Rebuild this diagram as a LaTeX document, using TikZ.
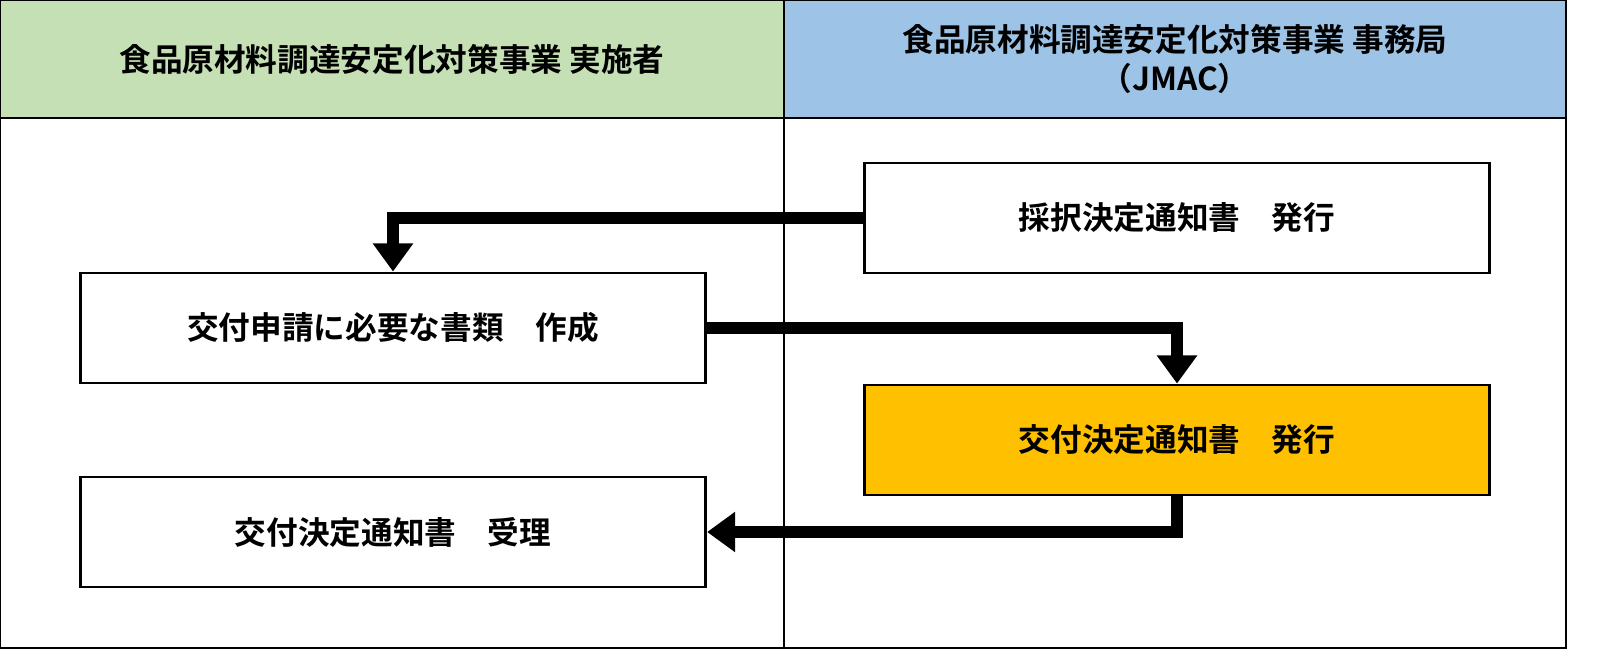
\documentclass[tikz,border=0pt]{standalone}
\usepackage{fontspec}
\setmainfont{Noto Sans CJK JP}[BoldFont={* Bold}]
\usetikzlibrary{arrows.meta}
\definecolor{hdgreen}{HTML}{C5E0B4}
\definecolor{hdblue}{HTML}{9DC3E6}
\definecolor{gold}{HTML}{FFC000}
\tikzset{
  procbox/.style={draw, line width=0.8pt, minimum width=6.25cm, minimum height=1.1cm,
    font=\fontsize{9}{11}\selectfont\bfseries, inner sep=0pt},
  flow/.style={line width=3.5pt, -{Triangle[length=8pt,width=11pt]}},
}
\begin{document}
\begin{tikzpicture}[x=0.01cm,y=-0.01cm]
\useasboundingbox (0,0) rectangle (1598,661);
% headers
\filldraw[draw=black, fill=hdgreen, line width=0.8pt] (0,0) rectangle (784,118);
\filldraw[draw=black, fill=hdblue, line width=0.8pt] (784,0) rectangle (1566,118);
\draw[line width=0.8pt] (0,118) rectangle (1566,648);
\draw[line width=0.8pt] (784,118) -- (784,648);
\node[font=\fontsize{9}{11}\selectfont\bfseries] (hleft) at (392,59) {食品原材料調達安定化対策事業 実施者};
\node[font=\fontsize{9}{11}\selectfont\bfseries, align=center] (hright) at (1175,59) {食品原材料調達安定化対策事業 事務局\\（JMAC）};

% steps
\node[procbox] (saitaku) at (1177,218) {採択決定通知書\quad 発行};
\node[procbox] (shinsei) at (393,328) {交付申請に必要な書類\quad 作成};
\node[procbox, fill=gold] (kettei) at (1177,440) {交付決定通知書\quad 発行};
\node[procbox] (juri) at (393,532) {交付決定通知書\quad 受理};

% connectors
\draw[flow] (saitaku.west) -| (shinsei.north);
\draw[flow] (shinsei.east) -| (kettei.north);
\draw[flow] (kettei.south) |- (juri.east);
\end{tikzpicture}
\end{document}
